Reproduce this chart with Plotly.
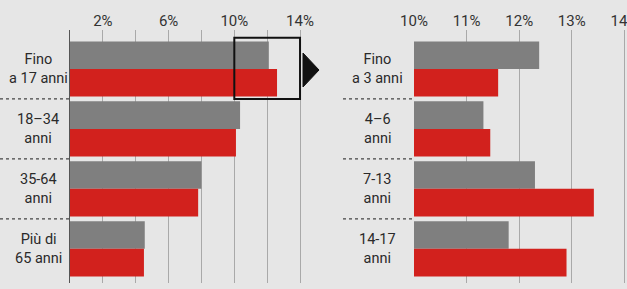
import plotly.graph_objects as go

# Data
left_cats = ["Fino<br>a 17 anni", "18–34<br>anni", "35-64<br>anni", "Più di<br>65 anni"]
left_gray = [12.1, 10.35, 8.0, 4.55]
left_red = [12.6, 10.1, 7.8, 4.5]

right_cats = ["Fino<br>a 3 anni", "4–6<br>anni", "7-13<br>anni", "14-17<br>anni"]
right_gray = [12.38, 11.32, 12.3, 11.8]
right_red = [11.6, 11.45, 13.42, 12.9]

left_ticks = [2, 6, 10, 14]
right_ticks = [10, 11, 12, 13, 14]

W, H = 627, 289
BG = "#e6e6e6"
GRAY = "#7f7f7f"
RED = "#d2211d"
FONT = "Roboto"

pos = list(range(len(left_cats)))

fig = go.Figure()
for vals, col in [(left_gray, GRAY), (left_red, RED)]:
    fig.add_trace(go.Bar(y=pos, x=vals, orientation="h", marker=dict(color=col, line=dict(width=0)),
                         xaxis="x", yaxis="y", showlegend=False))
for vals, col in [(right_gray, GRAY), (right_red, RED)]:
    fig.add_trace(go.Bar(y=pos, x=vals, orientation="h", marker=dict(color=col, line=dict(width=0)),
                         xaxis="x2", yaxis="y2", showlegend=False))

ydom = [1 - 283 / H, 1 - 30 / H]
yrange = [3.57, -0.65]
grid = "#a9a9a9"

fig.update_layout(
    template="none",
    width=W, height=H, margin=dict(l=0, r=0, t=0, b=0, pad=0, autoexpand=False),
    paper_bgcolor=BG, plot_bgcolor=BG,
    barmode="group", bargap=0.08, bargroupgap=0.0,
    font=dict(family=FONT, color="#2a2a2a", size=14),
    xaxis=dict(domain=[70 / W, 302 / W], range=[0, 14.12], side="top", automargin=False,
               tickvals=left_ticks, ticktext=[f"{v}%" for v in left_ticks],
               showgrid=True, gridcolor=grid, gridwidth=1, ticks="", zeroline=False, showline=False,
               minor=dict(dtick=2, tick0=0, showgrid=True, gridcolor=grid, gridwidth=1),
               tickfont=dict(size=15, color="#333"), anchor="y", ticklabeloverflow="allow"),
    yaxis=dict(domain=ydom, range=yrange, showticklabels=False, showgrid=False, zeroline=False,
               showline=True, linecolor="#555555", linewidth=1.5, anchor="x", automargin=False, ticks=""),
    xaxis2=dict(domain=[414 / W, 1.0], range=[10, 14.05], side="top", automargin=False,
                tickvals=right_ticks, ticktext=[f"{v}%" for v in right_ticks],
                showgrid=True, gridcolor=grid, gridwidth=1, ticks="", zeroline=False, showline=False,
                tickfont=dict(size=15, color="#333"), anchor="y2", ticklabeloverflow="allow"),
    yaxis2=dict(domain=ydom, range=yrange, showticklabels=False, showgrid=False, zeroline=False,
                showline=False, anchor="x2", automargin=False, ticks=""),
)

# Category labels
for cats, xc in [(left_cats, 38 / W), (right_cats, 377 / W)]:
    for i, c in enumerate(cats):
        fig.add_annotation(x=xc, y=i, xref="paper", yref="y", text=c, showarrow=False,
                           align="center", font=dict(size=14.5, color="#2a2a2a", family=FONT),
                           xanchor="center", yanchor="middle")

# Dotted separators
for i in range(len(left_cats) - 1):
    yy = i + 0.5
    fig.add_shape(type="line", xref="paper", yref="y", x0=0, x1=70 / W, y0=yy, y1=yy,
                  line=dict(color="#444", width=1.2, dash="dot"))
    fig.add_shape(type="line", xref="paper", yref="y2", x0=343 / W, x1=413 / W, y0=yy, y1=yy,
                  line=dict(color="#444", width=1.2, dash="dot"))

# Zoom box on the left chart
fig.add_shape(type="rect", xref="x", yref="y", x0=10, x1=14, y0=-0.52, y1=0.5,
              line=dict(color="#111", width=2), fillcolor="rgba(0,0,0,0)", layer="above")
# Arrow triangle
fig.add_shape(type="path", xref="paper", yref="paper",
              path=f"M {303/W},{1-53/H} L {319/W},{1-70/H} L {303/W},{1-87/H} Z",
              fillcolor="#111", line=dict(color="#111", width=1))

fig.write_html("out.html",
               config={"displayModeBar": False, "staticPlot": True},
               post_script="document.body.style.margin='0';document.body.style.overflow='hidden';")
